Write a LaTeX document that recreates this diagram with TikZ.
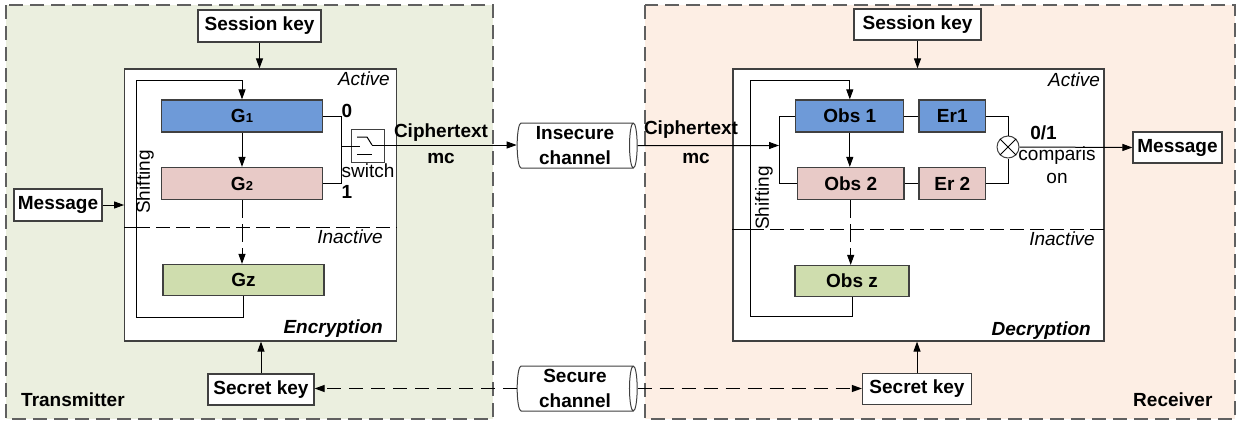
\documentclass[tikz,border=0pt]{standalone}
\usepackage{fontspec}
\setmainfont{Liberation Sans}
\usetikzlibrary{arrows.meta,shapes.geometric}

\definecolor{txbg}{HTML}{EBEFDF}
\definecolor{rxbg}{HTML}{FDEEE4}
\definecolor{gblue}{HTML}{6E9AD8}
\definecolor{gpink}{HTML}{E8CAC7}
\definecolor{ggreen}{HTML}{CFDDAE}
\definecolor{edge}{HTML}{404040}
\newcommand{\figfont}{\fontsize{19}{22}\selectfont}

\tikzset{
	keybox/.style={draw=edge, fill=white, line width=1.2pt, inner sep=0pt, minimum height=31pt, font=\figfont\bfseries},
	genbox/.style={draw=edge, line width=1.2pt, inner sep=0pt, minimum height=32pt, font=\figfont\bfseries},
	unit/.style={draw=edge, fill=white, line width=1.2pt, inner sep=0pt},
	region/.style={draw=gray!75!black, line width=1.2pt, dash pattern=on 14pt off 7pt},
	chan/.style={cylinder, draw=edge, fill=white, line width=1pt, align=center, font=\fontsize{19}{25}\selectfont\bfseries, minimum width=45pt, minimum height=120pt, shape aspect=0.2, inner sep=0pt},
	link/.style={line width=1pt, -{Triangle[length=10pt,width=7pt]}},
	wire/.style={line width=1pt},
	divider/.style={line width=1pt, dash pattern=on 14pt off 6pt},
	tag/.style={inner sep=0pt},
}

\begin{document}
\begin{tikzpicture}[x=1pt, y=-1pt, font=\figfont]
	\useasboundingbox (0,0) rectangle (1238,423);
	% transmitter and receiver areas
	\draw[region, fill=txbg] (6,5) rectangle (493,419);
	\draw[region, fill=rxbg] (645,5) rectangle (1235,419);
	\node[tag, anchor=west] (txlabel) at (21,400) {\bfseries Transmitter};
	\node[tag, anchor=west] (rxlabel) at (1133,400) {\bfseries Receiver};

	% transmitter
	\node[keybox, minimum width=123pt, minimum height=32pt] (skeyL) at (259.5,26) {Session key};
	\node[unit, minimum width=272pt, minimum height=272pt] (enc) at (260.7,205) {};
	\node[keybox, minimum width=88pt, minimum height=32pt] (msgL) at (58,205) {Message};
	\node[keybox, minimum width=106pt] (secL) at (261,389.5) {Secret key};
	\node[genbox, fill=gblue, minimum width=161pt] (G1) at (242,116) {G{\fontsize{13}{13}\selectfont 1}};
	\node[genbox, fill=gpink, minimum width=161pt] (G2) at (242,183.5) {G{\fontsize{13}{13}\selectfont 2}};
	\node[genbox, fill=ggreen, minimum width=161pt, minimum height=31pt] (Gz) at (243.5,280) {Gz};
	\node[tag, anchor=east] (actL) at (390,79) {\itshape Active};
	\node[tag, anchor=east] (inactL) at (383,237) {\itshape Inactive};
	\node[tag, anchor=east] (encL) at (383,329) {\bfseries\itshape Encryption};
	\node[tag, rotate=90] (shiftL) at (145,182) {Shifting};
	\draw[wire] (enc.west |- 0,227) -- (136,227);
	\draw[divider] (136,227) -- (enc.east |- 0,227);

	\draw[link] (skeyL.south) -- (skeyL.south |- enc.north);
	\draw[link] (secL.north) -- (secL.north |- enc.south);
	\draw[link] (msgL.east) -- (enc.west);
	\draw[link] (G1.south) -- (G2.north);
	\draw[link, dash pattern=on 18pt off 6pt] (G2.south) -- (G2.south |- Gz.north);
	\draw[link] (Gz.south) -- (Gz.south |- 0,317) -- (136,317) -- (136,80) -- (G1.north |- 0,80) -- (G1.north);

	% switch
	\node[unit, minimum width=33pt, minimum height=33pt] (sw) at (368,146) {};
	\coordinate (jn) at (341,146);
	\coordinate (swout) at (372,145);
	\draw[wire] (G1.east) -- (jn |- G1.east) -- (jn |- G2.east) -- (G2.east);
	\draw[wire] (jn) -- (360,146);
	\draw[wire] (357,137) -- (367,137) -- (swout);
	\draw[wire] (357,154) -- (372,154);
	\node[tag] (zeroL) at (347,111) {\bfseries 0};
	\node[tag] (oneL) at (347,192) {\bfseries 1};
	\node[tag] (swL) at (368,171) {switch};

	% channels
	\node[chan] (insec) at (575,145.5) {Insecure\\channel};
	\node[chan] (secure) at (575,388.5) {Secure\\channel};
	\draw[link] (swout) -- (insec.west |- swout);
	\node[tag] (ctL) at (441,133) {\bfseries Ciphertext};
	\node[tag] (mcL) at (441,158) {\bfseries mc};

	% receiver
	\node[keybox, minimum width=127pt] (skeyR) at (917.5,24.5) {Session key};
	\node[unit, minimum width=371pt, minimum height=272pt] (dec) at (918.5,205) {};
	\node[keybox, minimum width=109pt] (secR) at (917,389) {Secret key};
	\node[genbox, fill=gblue, minimum width=108pt] (obs1) at (849.8,116) {Obs 1};
	\node[genbox, fill=gblue, minimum width=66.6pt] (er1) at (952.3,116) {Er1};
	\node[genbox, fill=gpink, minimum width=106.5pt] (obs2) at (850.7,183.5) {Obs 2};
	\node[genbox, fill=gpink, minimum width=66.6pt] (er2) at (952.3,183.5) {Er 2};
	\node[genbox, fill=ggreen, minimum width=114pt, minimum height=31pt] (obsz) at (852,281) {Obs z};
	\node[circle, draw=edge, fill=white, line width=1pt, minimum size=22pt, inner sep=0pt] (cmp) at (1008,147) {};
	\draw[wire] (cmp.north west) -- (cmp.south east) (cmp.north east) -- (cmp.south west);
	\node[keybox, minimum width=89pt] (msgR) at (1177.5,147.5) {Message};
	\node[tag, anchor=east] (actR) at (1100,80) {\itshape Active};
	\node[tag, anchor=east] (inactR) at (1095,239) {\itshape Inactive};
	\node[tag, anchor=east] (decL) at (1091,331) {\bfseries\itshape Decryption};
	\node[tag, rotate=90] (shiftR) at (764,198) {Shifting};
	\node[tag] (bitL) at (1043.5,133) {\bfseries 0/1};
	\node[tag, align=center, font=\fontsize{19}{23}\selectfont] (cmpL) at (1057,165.5) {comparis\\on};
	\node[tag] (ctR) at (691,130) {\bfseries Ciphertext};
	\node[tag] (mcR) at (696,158) {\bfseries mc};
	\draw[wire] (dec.west |- 0,229) -- (750,229);
	\draw[divider] (750,229) -- (dec.east |- 0,229);

	\draw[link] (insec.east) -- (779,145.5);
	\draw[wire] (obs1.west) -- (779,116) -- (779,183.5) -- (obs2.west);
	\draw[wire] (obs1) -- (er1);
	\draw[wire] (obs2) -- (er2);
	\draw[wire] (er1.east) -| (cmp.north);
	\draw[wire] (er2.east) -| (cmp.south);
	\draw[link] (cmp.east) -- (msgR.west);
	\draw[link] (skeyR.south) -- (skeyR.south |- dec.north);
	\draw[link] (secR.north) -- (secR.north |- dec.south);
	\draw[link] (obs1.south) -- (obs1.south |- obs2.north);
	\draw[link, dash pattern=on 18pt off 6pt] (obs2.south) -- (obs2.south |- obsz.north);
	\draw[link] (obsz.south) -- (obsz.south |- 0,316) -- (750,316) -- (750,80) -- (obs1.north |- 0,80) -- (obs1.north);

	% key exchange
	\draw[link, dash pattern=on 14pt off 8pt] (secure.west) -- (secL.east |- secure.west);
	\draw[link, dash pattern=on 14pt off 8pt] (secure.east) -- (secR.west |- secure.east);
\end{tikzpicture}
\end{document}
